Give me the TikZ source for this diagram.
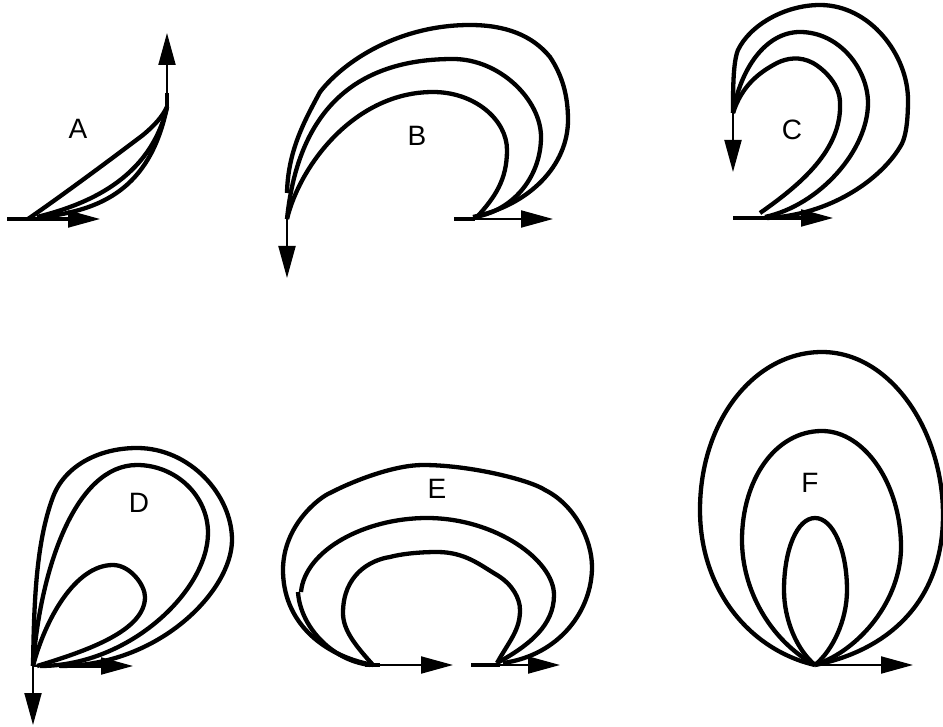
\documentclass[tikz,border=0pt]{standalone}
\usepackage{fontspec}
\setmainfont{Liberation Sans}
\usetikzlibrary{arrows.meta, positioning}

\begin{document}
\begin{tikzpicture}[
x=1pt, y=-1pt,
loop_line/.style={draw, line width=4.3pt, line join=round},
stub_line/.style={draw, line width=4.3pt},
vec_line/.style={draw, line width=2pt, -{Triangle[length=32pt, width=17pt]}},
panel_label/.style={font=\fontsize{28}{30}\selectfont, inner sep=0pt}
]
\useasboundingbox (0,0) rectangle (943,727);

% Panel A
\node[panel_label] (labA) at (78,129) {A};
\coordinate (Ao) at (167,107);
\coordinate (Aup) at (167,33);
\coordinate (Ax) at (7,219);
\coordinate (Axs) at (68,219);
\coordinate (Ar) at (100,219);
\draw[vec_line] (Ao) -- (Aup);
\draw[vec_line] (Ax) -- (Ar);
\draw[stub_line] (Ax) -- (Axs);
\draw[stub_line] (Ao) -- (167,93);
\draw[loop_line] (28,219) .. controls (60,197) and (110,160) .. (143,135) .. controls (155,125) and (162,117) .. (Ao);
\draw[loop_line] (37,217) .. controls (85,205) and (150,180) .. (Ao);
\draw[loop_line] (43,217) .. controls (100,210) and (150,190) .. (Ao);

% Panel B
\node[panel_label] (labB) at (417,136) {B};
\coordinate (Bo) at (287,219);
\coordinate (Bdn) at (287,278);
\coordinate (Bx) at (454,219);
\coordinate (Bxs) at (475,219);
\coordinate (Br) at (553,219);
\draw[vec_line] (Bo) -- (Bdn);
\draw[vec_line] (Bx) -- (Br);
\draw[stub_line] (Bx) -- (Bxs);
\draw[loop_line] (287,193) .. controls (288,150) and (305,120) .. (320,92) .. controls (345,60) and (400,25) .. (470,25) .. controls (505,25) and (532,35) .. (550,57) .. controls (562,75) and (568,95) .. (568,120) .. controls (568,165) and (530,205) .. (473,217);
\draw[loop_line] (Bo) .. controls (297,122) and (345,59) .. (453,59) .. controls (500,59) and (541,100) .. (541,137) .. controls (541,175) and (515,210) .. (475,217);
\draw[loop_line] (Bo) .. controls (300,165) and (355,92) .. (433,92) .. controls (475,92) and (507,120) .. (507,150) .. controls (507,180) and (495,197) .. (477,217);

% Panel C
\node[panel_label] (labC) at (792,130) {C};
\coordinate (Co) at (733,113);
\coordinate (Cdn) at (733,172);
\coordinate (Cx) at (733,218);
\coordinate (Cxs) at (801,218);
\coordinate (Cr) at (833,218);
\draw[vec_line] (Co) -- (Cdn);
\draw[vec_line] (Cx) -- (Cr);
\draw[stub_line] (Cx) -- (Cxs);
\draw[loop_line] (Co) .. controls (733,90) and (733,62) .. (738,50) .. controls (750,25) and (785,5) .. (820,5) .. controls (870,5) and (908,55) .. (908,100) .. controls (908,125) and (905,140) .. (900,147) .. controls (880,180) and (830,215) .. (767,218);
\draw[loop_line] (Co) .. controls (740,70) and (765,32) .. (800,32) .. controls (840,32) and (868,70) .. (868,103) .. controls (868,150) and (820,205) .. (765,217);
\draw[loop_line] (Co) .. controls (742,85) and (760,72) .. (777,63) .. controls (787,58) and (800,56) .. (813,63) .. controls (825,70) and (840,85) .. (840,103) .. controls (842,150) and (800,185) .. (760,213);

% Panel D
\node[panel_label] (labD) at (139,503) {D};
\coordinate (Do) at (33,666);
\coordinate (Ddn) at (33,725);
\coordinate (Dxs) at (59,666);
\coordinate (Dxe) at (101,666);
\coordinate (Dr) at (133,666);
\draw[vec_line] (Do) -- (Ddn);
\draw[vec_line] (Do) -- (Dr);
\draw[stub_line] (Dxs) -- (Dxe);
\draw[loop_line] (Do) .. controls (34,610) and (35,545) .. (53,497) .. controls (65,465) and (100,448) .. (137,448) .. controls (190,448) and (232,495) .. (232,540) .. controls (232,590) and (160,666) .. (60,666);
\draw[loop_line] (Do) .. controls (40,570) and (75,465) .. (137,465) .. controls (175,465) and (208,495) .. (208,533) .. controls (208,590) and (130,666) .. (40,666);
\draw[loop_line] (Do) .. controls (45,620) and (75,565) .. (113,565) .. controls (130,565) and (145,585) .. (145,597) .. controls (145,630) and (90,650) .. (37,666);

% Panel E
\node[panel_label] (labE) at (437,489) {E};
\coordinate (Ex) at (365,665);
\coordinate (Exs) at (380,665);
\coordinate (Er) at (453,665);
\coordinate (Fx) at (471,665);
\coordinate (Fxs) at (500,665);
\coordinate (Fr) at (560,665);
\draw[vec_line] (Ex) -- (Er);
\draw[vec_line] (Fx) -- (Fr);
\draw[stub_line] (Ex) -- (Exs);
\draw[stub_line] (Fx) -- (Fxs);
\draw[loop_line] (373,665) .. controls (320,655) and (283,620) .. (283,570) .. controls (283,525) and (320,497) .. (330,493) .. controls (355,480) and (395,465) .. (423,465) .. controls (470,465) and (530,480) .. (545,490) .. controls (575,505) and (592,540) .. (592,567) .. controls (592,610) and (560,655) .. (503,663);
\draw[loop_line] (298,592) .. controls (300,625) and (330,660) .. (370,665);
\draw[loop_line] (301,592) .. controls (305,550) and (365,518) .. (427,518) .. controls (495,518) and (554,560) .. (554,595) .. controls (554,625) and (530,645) .. (497,663);
\draw[loop_line] (373,665) .. controls (355,645) and (343,630) .. (343,613) .. controls (343,575) and (370,560) .. (390,557) .. controls (405,553) and (425,552) .. (437,552) .. controls (465,552) and (480,565) .. (497,575) .. controls (512,584) and (520,598) .. (520,610) .. controls (520,630) and (510,640) .. (497,663);

% Panel F
\node[panel_label] (labF) at (810,483) {F};
\coordinate (Go) at (815,665);
\coordinate (Gr) at (913,665);
\draw[vec_line] (Go) -- (Gr);
\draw[loop_line] (Go) .. controls (750,650) and (700,590) .. (700,510) .. controls (700,420) and (755,352) .. (822,352) .. controls (890,352) and (943,430) .. (943,515) .. controls (943,600) and (890,650) .. (Go);
\draw[loop_line] (Go) .. controls (770,640) and (742,590) .. (742,540) .. controls (742,480) and (775,431) .. (822,431) .. controls (865,431) and (901,485) .. (901,547) .. controls (901,600) and (860,650) .. (Go);
\draw[loop_line] (Go) .. controls (797,650) and (784,620) .. (784,590) .. controls (784,550) and (797,518) .. (815,518) .. controls (833,518) and (847,550) .. (847,590) .. controls (847,620) and (833,650) .. (Go);
\end{tikzpicture}
\end{document}
